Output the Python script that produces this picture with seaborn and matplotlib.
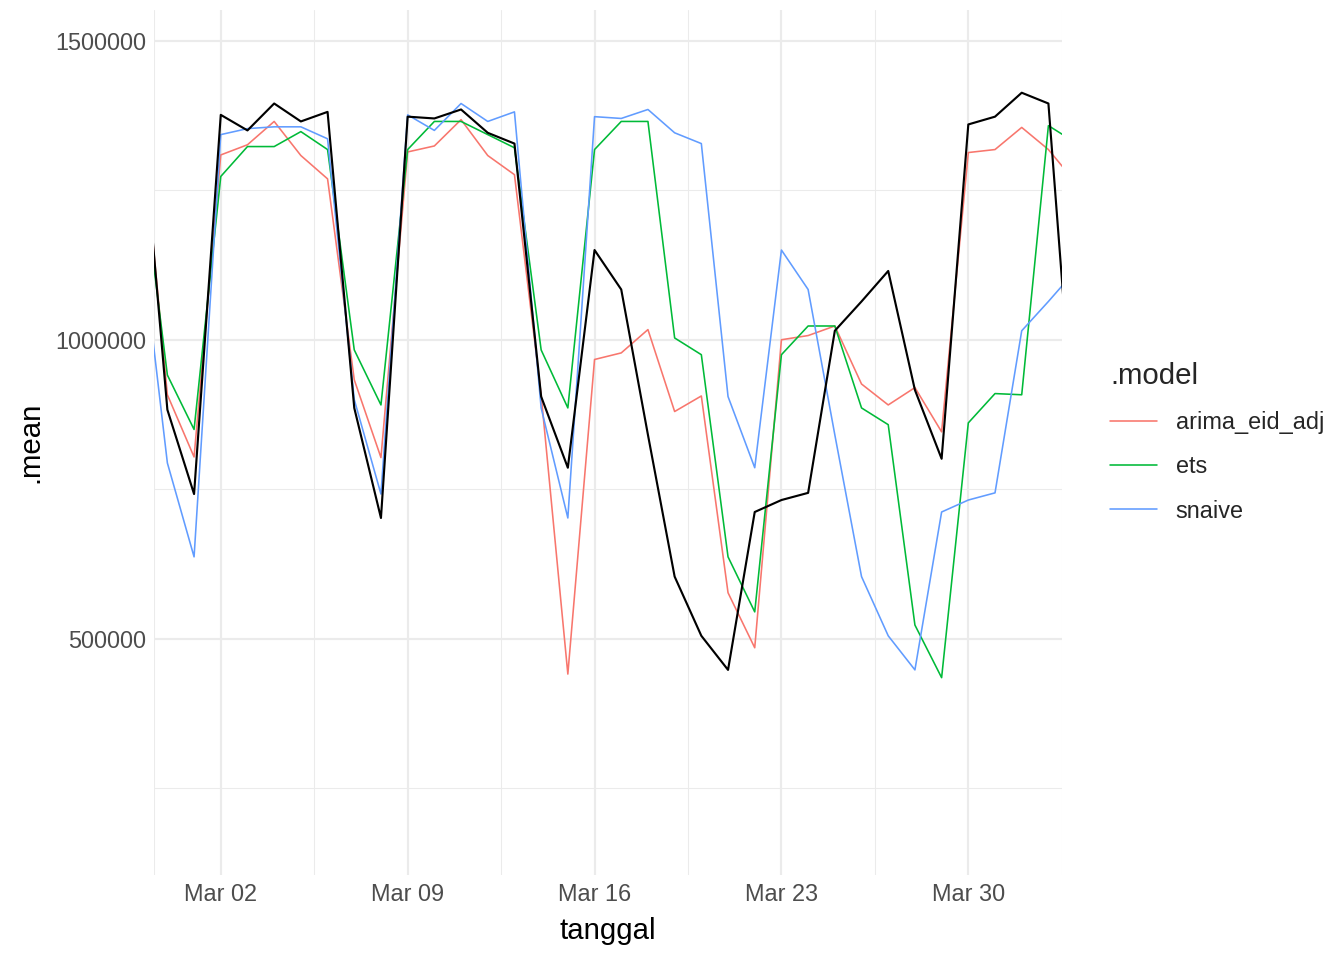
import numpy as np
import pandas as pd
import seaborn as sns
import matplotlib.pyplot as plt
import matplotlib.dates as mdates
from matplotlib.ticker import FixedLocator, FuncFormatter

# dates Feb 27 .. Apr 3
tanggal = pd.date_range('2023-02-27', '2023-04-03', freq='D')

aktual = [1400000, 883000, 742000, 1376000, 1350000, 1395000, 1365000, 1381000, 886000, 702000,
          1373000, 1370000, 1385000, 1346000, 1328000, 905000, 786000, 1150000, 1084000, 841000,
          604000, 505000, 448000, 712000, 732000, 744000, 1015000, 1064000, 1115000, 916000,
          801000, 1360000, 1373000, 1413000, 1395000, 813000]

arima_eid_adj = [1380000, 908000, 804000, 1309000, 1326000, 1365000, 1308000, 1269000, 933000, 803000,
                 1314000, 1324000, 1368000, 1308000, 1276000, 908000, 441000, 967000, 978000, 1017000,
                 880000, 906000, 577000, 485000, 1000000, 1007000, 1023000, 926000, 891000, 920000,
                 846000, 1313000, 1318000, 1355000, 1318000, 1264000]

ets = [1300000, 941000, 850000, 1273000, 1323000, 1323000, 1348000, 1318000, 983000, 891000,
       1318000, 1365000, 1365000, 1343000, 1321000, 983000, 886000, 1318000, 1365000, 1365000,
       1003000, 975000, 637000, 545000, 975000, 1023000, 1023000, 886000, 858000, 523000,
       435000, 861000, 910000, 908000, 1358000, 1330000]

snaive = [1174000, 794000, 637000, 1343000, 1353000, 1356000, 1356000, 1336000, 900000, 742000,
          1376000, 1350000, 1395000, 1365000, 1381000, 886000, 702000, 1373000, 1370000, 1385000,
          1346000, 1328000, 905000, 786000, 1150000, 1084000, 841000, 604000, 505000, 448000,
          712000, 732000, 744000, 1015000, 1064000, 1115000]

model_names = ['arima_eid_adj', 'ets', 'snaive']
warna = ['#F8766D', '#00BA38', '#619CFF']

df = pd.concat([
    pd.DataFrame({'tanggal': tanggal, '.mean': v, '.model': m})
    for m, v in zip(model_names, [arima_eid_adj, ets, snaive])
])
df_aktual = pd.DataFrame({'tanggal': tanggal, 'value': aktual})

sns.set_theme(style='white')
plt.rcParams['font.family'] = ['Liberation Sans', 'DejaVu Sans']

fig = plt.figure(figsize=(7, 5), dpi=192)
ax = fig.add_axes([0.1146, 0.0885, 0.6754, 0.9015])

sns.lineplot(data=df, x='tanggal', y='.mean', hue='.model', hue_order=model_names,
             palette=warna, linewidth=0.6, ax=ax)
sns.lineplot(data=df_aktual, x='tanggal', y='value', color='black', linewidth=0.8,
             ax=ax, legend=False)

ax.set_xlim(pd.Timestamp('2023-02-27 12:00'), pd.Timestamp('2023-04-02 12:00'))
ax.set_ylim(105000, 1552000)

major_x = pd.to_datetime(['2023-03-02', '2023-03-09', '2023-03-16', '2023-03-23', '2023-03-30'])
minor_x = pd.to_datetime(['2023-02-27 12:00', '2023-03-05 12:00', '2023-03-12 12:00',
                          '2023-03-19 12:00', '2023-03-26 12:00', '2023-04-02 12:00'])
ax.xaxis.set_major_locator(FixedLocator(mdates.date2num(major_x)))
ax.xaxis.set_minor_locator(FixedLocator(mdates.date2num(minor_x)))
ax.xaxis.set_major_formatter(mdates.DateFormatter('%b %d'))
ax.yaxis.set_major_locator(FixedLocator([500000, 1000000, 1500000]))
ax.yaxis.set_minor_locator(FixedLocator([250000, 750000, 1250000]))
ax.yaxis.set_major_formatter(FuncFormatter(lambda v, p: f'{int(v)}'))

ax.grid(which='major', color='#EBEBEB', linewidth=0.8)
ax.grid(which='minor', color='#EBEBEB', linewidth=0.4)
ax.set_axisbelow(True)
for s in ax.spines.values():
    s.set_visible(False)
ax.tick_params(which='both', length=0, labelsize=8.8, colors='#4D4D4D', pad=3)
ax.set_xlabel('tanggal', fontsize=11, color='black')
ax.set_ylabel('.mean', fontsize=11, color='black')

leg = ax.legend(title='.model', loc='center left', bbox_to_anchor=(1.03, 0.5), frameon=False,
                fontsize=8.8, title_fontsize=11, handlelength=2, labelspacing=0.9)
leg._legend_box.align = 'left'

fig.savefig('out.png', dpi=192)
